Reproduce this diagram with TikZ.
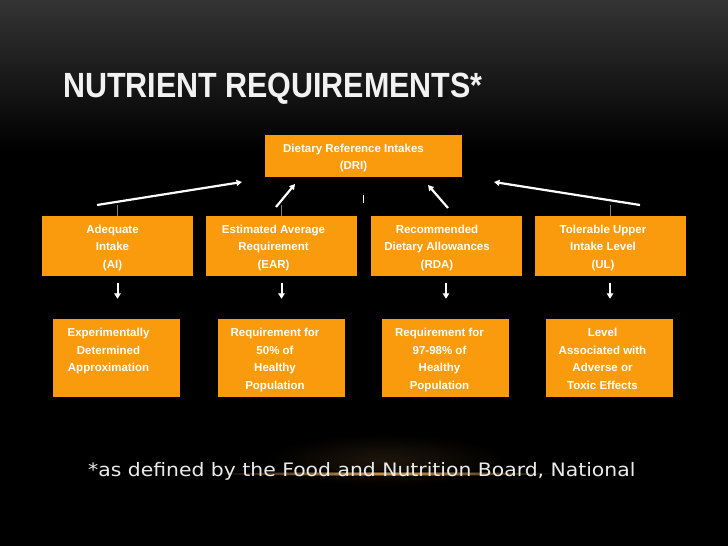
\documentclass[tikz,border=0pt]{standalone}
\usepackage{fontspec}
\setmainfont{Liberation Sans}
\newfontfamily\titlefont[FakeStretch=0.87]{Liberation Sans}
\newfontfamily\notefont[FakeStretch=1.1]{DejaVu Sans}
\usetikzlibrary{arrows.meta}
\definecolor{boxorange}{HTML}{F99B0C}
\definecolor{glow}{HTML}{F0B060}
\definecolor{topgray}{HTML}{343434}

\begin{document}
\begin{tikzpicture}
  [x=1pt,y=-1pt,every node/.style={inner sep=0pt},
   box/.style={fill=boxorange,minimum width=151pt,minimum height=60pt},
   subbox/.style={fill=boxorange,minimum width=127pt,minimum height=78pt},
   txt/.style={white,align=center,font=\bfseries\fontsize{11.5}{17.5}\selectfont},
   uparrow/.style={white,line width=2.2pt,-{Triangle[length=5.5pt,width=6pt]}},
   downarrow/.style={white,line width=2pt,-{Triangle[length=5.5pt,width=6.5pt]},
     shorten <=7pt,shorten >=20pt},
   tick/.style={gray,line width=1pt}]
  \useasboundingbox (0,0) rectangle (728,546);
  % background
  \fill[black] (0,0) rectangle (728,546);
  \shade[top color=topgray,bottom color=black] (0,0) rectangle (728,150);
  \shade[inner color=glow!12!black,outer color=black] (385,460) ellipse (120 and 26);
  \shade[inner color=glow,outer color=black] (385,473.5) ellipse (175 and 2.5);

  \node[anchor=base west,text=white!95!black,
    font=\titlefont\bfseries\fontsize{35}{40}\selectfont] (title) at (63,97) {NUTRIENT REQUIREMENTS*};

  % boxes
  \node[fill=boxorange,minimum width=197pt,minimum height=42pt] (d0) at (363.5,156) {};
  \node[txt] (d0t) at ([xshift=-10pt,yshift=-2pt]d0) {Dietary Reference Intakes\\(DRI)};

  \node[box] (a1) at (117.5,246) {};
  \node[box] (a2) at (281.5,246) {};
  \node[box] (a3) at (446,246) {};
  \node[box] (a4) at (610,246) {};
  \node[txt] (a1t) at ([xshift=-5pt,yshift=-2pt]a1) {Adequate\\Intake\\(AI)};
  \node[txt] (a2t) at ([xshift=-8pt,yshift=-2pt]a2) {Estimated Average\\Requirement\\(EAR)};
  \node[txt] (a3t) at ([xshift=-9pt,yshift=-2pt]a3) {Recommended\\Dietary Allowances\\(RDA)};
  \node[txt] (a4t) at ([xshift=-7pt,yshift=-2pt]a4) {Tolerable Upper\\Intake Level\\(UL)};

  \node[subbox] (b1) at (116.5,358) {};
  \node[subbox] (b2) at (281,358) {};
  \node[subbox] (b3) at (445.5,358) {};
  \node[subbox] (b4) at (609.5,358) {};
  \node[txt,anchor=north] (b1t) at ([xshift=-8pt,yshift=-9.5pt]b1.north) {Experimentally\\Determined\\Approximation};
  \node[txt,anchor=north] (b2t) at ([xshift=-6pt,yshift=-9.5pt]b2.north) {Requirement for\\50\% of\\Healthy\\Population};
  \node[txt,anchor=north] (b3t) at ([xshift=-6pt,yshift=-9.5pt]b3.north) {Requirement for\\97-98\% of\\Healthy\\Population};
  \node[txt,anchor=north] (b4t) at ([xshift=-7pt,yshift=-9.5pt]b4.north) {Level\\Associated with\\Adverse or\\Toxic Effects};

  \node[anchor=base west,text=white!92!black,
    font=\notefont\fontsize{18.5}{22}\selectfont] (note) at (88,476) {*as defined by the Food and Nutrition Board, National};

  % arrows
  \coordinate (u1) at (97,205);  \coordinate (v1) at (242,182);
  \coordinate (u2) at (276,207); \coordinate (v2) at (295,184);
  \coordinate (u3) at (448,208); \coordinate (v3) at (428,185);
  \coordinate (u4) at (640,205); \coordinate (v4) at (494,182);
  \foreach \from/\to in {u1/v1,u2/v2,u3/v3,u4/v4}
    \draw[uparrow] (\from) -- (\to);
  \foreach \from/\to in {a1/b1,a2/b2,a3/b3,a4/b4}
    \draw[downarrow] (\from.south) -- (\from.south |- \to.north);
  \foreach \n in {a1,a2,a4}
    \draw[tick] (\n.north) -- ++(0,-11);
  \draw[white,line width=1pt] ([yshift=-18pt]d0.south) -- ++(0,8);
\end{tikzpicture}
\end{document}
